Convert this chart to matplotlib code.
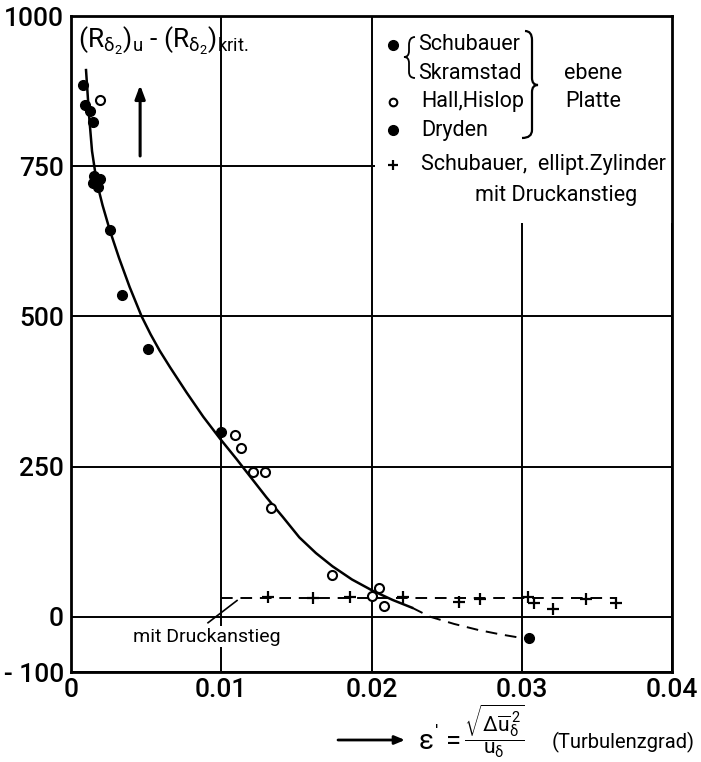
#!/usr/bin/env python3

import numpy as np
import matplotlib
matplotlib.use( "Agg" )
import matplotlib.pyplot as plt
from matplotlib.path import Path
from matplotlib.patches import PathPatch, Rectangle

plt.rcParams['font.family'] = ['Roboto', 'DejaVu Sans']
plt.rcParams['mathtext.fontset'] = 'custom'
plt.rcParams['mathtext.rm'] = 'Roboto'
plt.rcParams['mathtext.it'] = 'Roboto'

# Schubauer / Skramstad (filled dots)
schubX = [0.0008, 0.00093, 0.00127, 0.00147, 0.0015, 0.0019, 0.00147, 0.0018, 0.0026, 0.0034, 0.0051, 0.0100]
schubY = [885, 852, 842, 824, 734, 729, 722, 715, 644, 536, 446, 308]
# Dryden (filled dot)
drydenX = [0.0305]
drydenY = [-35]
# Hall, Hislop (open circles)
hallX = [0.0019, 0.0109, 0.0113, 0.0121, 0.0129, 0.0133, 0.0174, 0.0205, 0.0200, 0.0208]
hallY = [860, 303, 281, 241, 241, 181, 70, 48, 35, 18]
# Schubauer, elliptischer Zylinder mit Druckanstieg (+)
zylX = [0.0131, 0.0161, 0.0186, 0.0221, 0.0258, 0.0272, 0.0304, 0.0308, 0.0321, 0.0343, 0.0363]
zylY = [33, 32, 33, 33, 25, 30, 33, 23, 13, 30, 23]

curveX = [0.0010, 0.0012, 0.0014, 0.0017, 0.0021, 0.0026, 0.0032, 0.0039, 0.0047, 0.0053, 0.0059, 0.0066,
	0.0077, 0.0088, 0.0099, 0.0110, 0.0120, 0.0130, 0.0141, 0.0152, 0.0163, 0.0174, 0.0187, 0.0201, 0.0214, 0.0227]
curveY = [910, 835, 775, 725, 685, 642, 597, 549, 500, 470, 443, 415,
	373, 333, 297, 263, 231, 199, 166, 132, 106, 84, 62, 43, 28, 15]
extraX = [0.0227, 0.0239, 0.0255, 0.0271, 0.0285, 0.0299]
extraY = [15, 0, -12, -22, -29, -35]
# mean level with pressure rise (dashed)
druckX = [0.0100, 0.0363, 0.0363]
druckY = [32, 32, 23]

xTicks = [0, 0.01, 0.02, 0.03, 0.04]
xTickLabels = ['0', '0.01', '0.02', '0.03', '0.04']
# the paper's "-100" sits on the frame edge, which is a bit above -100 on its own scale
yTicks = [-92, 0, 250, 500, 750, 1000]
yTickLabels = ['- 100', '0', '250', '500', '750', '1000']

W, H = 701, 762

def px(x, y) :
	# figure pixel (from top left) -> inches for dpi_scale_trans
	return ( x/100., (H-y)/100. )

def drawPath(fig, pts, codes, lw=1.6) :
	verts = [ px(*p) for p in pts ]
	patch = PathPatch( Path(verts, codes), fill=False, lw=lw, color='black', transform=fig.dpi_scale_trans, zorder=5 )
	fig.add_artist( patch )

def drawBraces(fig) :
	M, C, L = Path.MOVETO, Path.CURVE3, Path.LINETO
	# right brace "}" grouping the flat plate experiments
	pts = [ (525,31), (532,31), (532,40), (532,78), (532,85), (538,85), (532,85), (532,92), (532,130), (532,138), (522,138) ]
	codes = [ M, C, C, L, C, C, C, C, L, C, C ]
	drawPath(fig, pts, codes)
	# small left brace "{" for Schubauer / Skramstad
	pts = [ (415,37), (409,37), (409,45), (409,51), (409,57), (404,57), (409,57), (409,63), (409,72), (409,78), (415,78) ]
	drawPath(fig, pts, codes, lw=1.3)

def plotChart() :
	fig = plt.figure( figsize=(W/100., H/100.), dpi=100 )
	ax = fig.add_axes( [71/W, 1-672/H, (672-71)/W, (672-16)/H] )

	ax.set_xlim(0, 0.04)
	ax.set_ylim(-92, 1000)
	ax.set_xticks(xTicks)
	ax.set_xticklabels(xTickLabels, fontweight='medium')
	ax.set_yticks(yTicks)
	ax.set_yticklabels(yTickLabels, fontweight='medium')
	ax.tick_params( length=0, labelsize=19 )
	ax.tick_params( axis='x', pad=4 )
	ax.tick_params( axis='y', pad=5 )
	ax.set_axisbelow(True)
	ax.grid( True, color='black', lw=1.4 )
	for s in ax.spines.values() :
		s.set_linewidth(2.0)

	# white area under the legend text
	ax.add_patch( Rectangle( (0.0202, 655), 0.0198, 345, facecolor='white', edgecolor='none', zorder=1 ) )

	ax.plot( curveX, curveY, color='black', lw=1.8, zorder=3 )
	ax.plot( extraX, extraY, color='black', lw=1.4, dashes=(6,4), zorder=3 )
	ax.plot( druckX, druckY, color='black', lw=1.4, dashes=(6,4), zorder=3 )

	ax.plot( schubX, schubY, 'o', color='black', ms=7, zorder=4 )
	ax.plot( drydenX, drydenY, 'o', color='black', ms=7, zorder=4 )
	ax.plot( hallX, hallY, 'o', mfc='white', mec='black', mew=1.5, ms=6.5, zorder=4 )
	ax.plot( zylX, zylY, '+', color='black', mew=1.6, ms=8, zorder=4 )

	# "mit Druckanstieg" note with leader line
	ax.plot( [0.00912, 0.01105], [-10, 27], color='black', lw=1.2, zorder=3 )
	ax.text( 0.00907, -33, 'mit Druckanstieg', fontsize=14, ha='center', va='center',
		bbox=dict(facecolor='white', edgecolor='none', pad=1), zorder=4 )

	# y label and arrow
	ax.text( 0.00045, 958, r'$\mathrm{(R_{\delta_2})_u}$' + ' - ' + r'$\mathrm{(R_{\delta_2})_{krit.}}$', fontsize=19, ha='left', va='center', zorder=4 )
	ax.annotate( '', xy=(0.00460, 885), xytext=(0.00460, 767),
		arrowprops=dict(arrowstyle='-|>,head_length=0.8,head_width=0.3', color='black', lw=2.2, shrinkA=0, shrinkB=0) )

	# legend
	mx = 0.0214
	ax.plot( [mx], [952], 'o', color='black', ms=7, zorder=4 )
	ax.plot( [mx], [857], 'o', mfc='white', mec='black', mew=1.5, ms=5.5, zorder=4 )
	ax.plot( [mx], [810], 'o', color='black', ms=7, zorder=4 )
	ax.plot( [mx], [752], '+', color='black', mew=1.6, ms=7, zorder=4 )
	fs = 15.5
	ax.text( 0.0231, 952, 'Schubauer', fontsize=fs, va='center', zorder=4 )
	ax.text( 0.0231, 905, 'Skramstad', fontsize=fs, va='center', zorder=4 )
	ax.text( 0.0233, 857, 'Hall,Hislop', fontsize=fs, va='center', zorder=4 )
	ax.text( 0.0233, 810, 'Dryden', fontsize=fs, va='center', zorder=4 )
	ax.text( 0.0328, 905, 'ebene', fontsize=fs, va='center', zorder=4 )
	ax.text( 0.0329, 857, 'Platte', fontsize=fs, va='center', zorder=4 )
	ax.text( 0.0233, 752, 'Schubauer,  ellipt.Zylinder', fontsize=fs, va='center', zorder=4 )
	ax.text( 0.0269, 702, 'mit Druckanstieg', fontsize=fs, va='center', zorder=4 )
	drawBraces(fig)

	# x label: arrow, epsilon, fraction, and the name
	ax.annotate( '', xy=(405/W, 1-740/H), xytext=(338/W, 1-740/H), xycoords='figure fraction',
		arrowprops=dict(arrowstyle='-|>,head_length=0.6,head_width=0.25', color='black', lw=2.0, shrinkA=0, shrinkB=0) )
	fig.text( 418/W, 1-741/H, r"$\varepsilon'$ =", fontsize=20, ha='left', va='center' )
	fig.text( 464/W, 1-731/H, r"$\dfrac{\sqrt{\Delta\overline{u}_{\delta}^{\,2}}}{u_{\delta}}$",
		fontsize=15, ha='left', va='center' )
	fig.text( 552/W, 1-742/H, '(Turbulenzgrad)', fontsize=14.5, ha='left', va='center' )

	fig.savefig( 'out.png', dpi=100 )

def main() :
	plotChart()

if __name__ == '__main__' :
	main()
